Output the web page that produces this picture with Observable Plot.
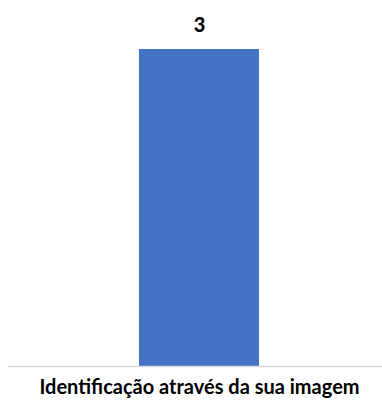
<!DOCTYPE html>
<html>
<head>
<meta charset="utf-8">
<script src="https://cdn.jsdelivr.net/npm/d3@7"></script>
<script src="https://cdn.jsdelivr.net/npm/@observablehq/plot@0.6"></script>
<style>
  html, body { margin: 0; padding: 0; background: #fff; }
  #chart svg { display: block; }
</style>
</head>
<body>
<div id="chart"></div>
<script>
const categories = ["Identificação através da sua imagem"];
const values = [3];

const data = categories.map((c, i) => ({ category: c, value: values[i] }));
const font = "Lato, 'Open Sans', sans-serif";

const chart = Plot.plot({
  width: 382,
  height: 403,
  marginTop: 49,
  marginBottom: 37,
  marginLeft: 16,
  marginRight: 0,
  style: { fontFamily: font, background: "#fff", color: "#000" },
  x: { domain: categories, paddingInner: 0, paddingOuter: 1.025, label: null },
  y: { domain: [0, 3], axis: null },
  marks: [
    Plot.barY(data, { x: "category", y: "value", fill: "#4472C4" }),
    Plot.ruleY([0], { stroke: "#d9d9d9", strokeWidth: 1.5, insetLeft: -8 }),
    Plot.text(data, {
      x: "category", y: "value", text: d => String(d.value),
      dy: -24, fontSize: 20, fontWeight: 900, fill: "#000"
    }),
    Plot.axisX({
      tickSize: 0, tickPadding: 13, fontSize: 20, fontWeight: "bold",
      fill: "#000", label: null
    })
  ]
});
document.getElementById("chart").append(chart);
</script>
</body>
</html>
